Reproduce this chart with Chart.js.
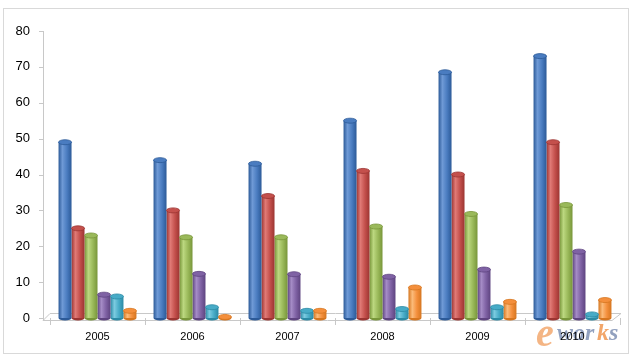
<!DOCTYPE html>
<html>
<head>
<meta charset="utf-8">
<script src="https://cdn.jsdelivr.net/npm/chart.js@4/dist/chart.umd.min.js"></script>
<style>
  html, body { margin: 0; padding: 0; background: #fff; }
  #wrap { width: 631px; height: 359px; position: relative; }
</style>
</head>
<body>
<div id="wrap"><canvas id="chart" width="631" height="359"></canvas></div>
<script>
// data
const years = ['2005', '2006', '2007', '2008', '2009', '2010'];
const blueVals = [49, 44, 43, 55, 68.5, 73];
const redVals = [25, 30, 34, 41, 40, 49];
const greenVals = [23, 22.5, 22.5, 25.5, 29, 31.5];
const purpleVals = [6.5, 12.3, 12.2, 11.5, 13.5, 18.5];
const cyanVals = [6, 3, 2, 2.5, 3, 1];
const orangeVals = [2, 0.3, 2, 8.5, 4.5, 5];
const yTicks = [0, 10, 20, 30, 40, 50, 60, 70, 80];

// [dark edge, light highlight] for the cylinder shading
const shades = [
  ['#2c5a98', '#6f9ad6'],
  ['#9c3532', '#e07a76'],
  ['#78963a', '#bcd880'],
  ['#5e4480', '#a58cc6'],
  ['#2c8aa5', '#7ccbe0'],
  ['#d57620', '#fbbb7a']
];

// rounded look: horizontal gradient on each bar + elliptic top
const cylinders = {
  id: 'cylinders',
  beforeDatasetsDraw(chart) {
    const ctx = chart.ctx;
    chart.data.datasets.forEach((ds, i) => {
      const meta = chart.getDatasetMeta(i);
      meta.data.forEach(el => {
        const g = ctx.createLinearGradient(el.x - el.width / 2, 0, el.x + el.width / 2, 0);
        g.addColorStop(0, shades[i][0]);
        g.addColorStop(0.3, shades[i][1]);
        g.addColorStop(0.65, ds.backgroundColor);
        g.addColorStop(1, shades[i][0]);
        el.options = Object.assign({}, el.options, { backgroundColor: g });
      });
    });
  },
  afterDatasetsDraw(chart) {
    const ctx = chart.ctx;
    chart.data.datasets.forEach((ds, i) => {
      const meta = chart.getDatasetMeta(i);
      meta.data.forEach(el => {
        const rx = el.width / 2;
        ctx.save();
        ctx.beginPath();
        ctx.ellipse(el.x, el.base, rx, 2.5, 0, 0, Math.PI);
        ctx.fillStyle = shades[i][0];
        ctx.fill();
        ctx.beginPath();
        ctx.ellipse(el.x, el.y, rx, 2.5, 0, 0, Math.PI * 2);
        ctx.fillStyle = ds.backgroundColor;
        ctx.fill();
        ctx.lineWidth = 0.8;
        ctx.strokeStyle = shades[i][0];
        ctx.stroke();
        ctx.restore();
      });
    });
  }
};

// frame, value axis line, 3d floor and the watermark
const decor = {
  id: 'decor',
  beforeDraw(chart) {
    const ctx = chart.ctx;
    const a = chart.chartArea;
    const y = chart.scales.y;
    ctx.save();
    ctx.strokeStyle = '#d9d9d9';
    ctx.lineWidth = 1;
    ctx.strokeRect(3.5, 8.5, 625, 345);
    ctx.strokeStyle = '#c8c8c8';
    // value axis, shifted to the front of the 3d floor
    ctx.beginPath();
    ctx.moveTo(43.5, a.top);
    ctx.lineTo(43.5, a.bottom + 2);
    yTicks.forEach(v => {
      const py = Math.round(y.getPixelForValue(v)) + 0.5;
      ctx.moveTo(39, py);
      ctx.lineTo(43.5, py);
    });
    // floor
    ctx.moveTo(43, a.bottom + 2.5);
    ctx.lineTo(a.right - 8, a.bottom + 2.5);
    ctx.lineTo(a.right + 1, a.bottom - 4.5);
    ctx.lineTo(a.left, a.bottom - 4.5);
    ctx.lineTo(43, a.bottom + 2.5);
    ctx.stroke();
    // watermark
    ctx.font = 'italic bold 40px "Liberation Serif"';
    ctx.fillStyle = 'rgba(240,150,80,0.7)';
    ctx.fillText('e', 536, 346);
    ctx.font = 'italic bold 24px "Liberation Serif"';
    ctx.fillStyle = 'rgba(110,130,170,0.75)';
    ctx.fillText('wor', 557, 340);
    ctx.fillStyle = 'rgba(240,150,80,0.85)';
    ctx.fillText('k', 597, 340);
    ctx.fillStyle = 'rgba(110,130,170,0.75)';
    ctx.fillText('s', 609, 340);
    ctx.restore();
  }
};

const seriesVals = [blueVals, redVals, greenVals, purpleVals, cyanVals, orangeVals];
const baseColors = ['#4a7cc0', '#c4504c', '#9ab95a', '#7f62a4', '#47abc7', '#f48f3c'];

new Chart(document.getElementById('chart'), {
  type: 'bar',
  data: {
    labels: years,
    datasets: seriesVals.map((vals, i) => ({
      data: vals,
      backgroundColor: baseColors[i],
      borderWidth: 0,
      barPercentage: 1.0,
      categoryPercentage: 0.82
    }))
  },
  options: {
    responsive: false,
    animation: false,
    layout: { padding: { left: 0, top: 31, right: 11, bottom: 0 } },
    plugins: {
      legend: { display: false },
      tooltip: { enabled: false }
    },
    scales: {
      x: {
        grid: { drawOnChartArea: false, color: '#c8c8c8', tickLength: 7 },
        border: { display: false },
        ticks: { color: '#000', font: { family: 'Liberation Sans', size: 11 }, padding: 5 },
        afterFit: s => { s.height = 41; }
      },
      y: {
        min: 0,
        max: 80,
        afterBuildTicks: s => { s.ticks = yTicks.map(v => ({ value: v })); },
        grid: { display: false },
        border: { display: false },
        ticks: { color: '#000', font: { family: 'Liberation Sans', size: 13 }, padding: 12 },
        afterFit: s => { s.width = 50; }
      }
    }
  },
  plugins: [decor, cylinders]
});
</script>
</body>
</html>
